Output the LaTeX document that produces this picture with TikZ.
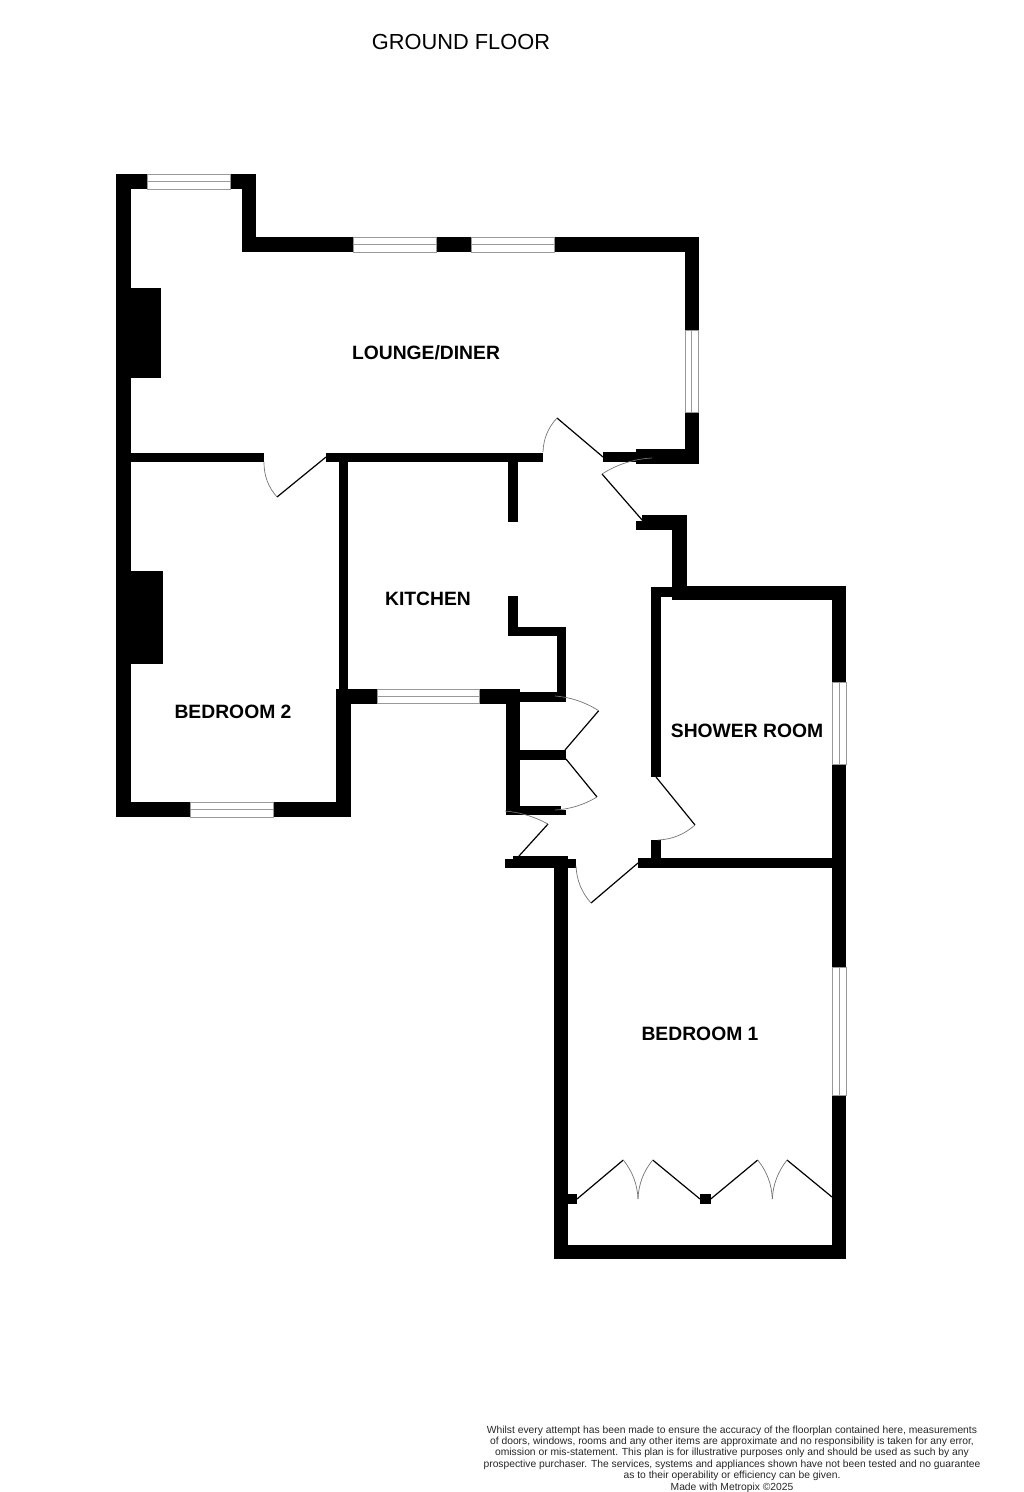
\documentclass[tikz,border=0pt]{standalone}
\usepackage{fontspec}
\setmainfont{Liberation Sans}
\usetikzlibrary{calc}
\tikzset{
  wall/.style={fill=black},
  glass/.style={draw=black!40,line width=1pt,fill=white},
  leaf/.style={draw=black,line width=1.2pt},
  swing/.style={draw=black!55,line width=0.7pt},
  room/.style={font=\bfseries\fontsize{19.3}{22}\selectfont,inner sep=0pt},
}
\newcommand{\door}[3]{%
  \draw[leaf] (#1) -- (#2);
  \coordinate (swingtop) at ($(#2)!.5!(#3)!-.12!(#1)$);
  \draw[swing] (#2) .. controls ($(#2)!.67!(swingtop)$) and ($(#3)!.67!(swingtop)$) .. (#3);
}
\begin{document}
\begin{tikzpicture}[x=1pt,y=-1pt]
\useasboundingbox (0,0) rectangle (1024,1492);
%
% outer and inner walls
\foreach \xa/\ya/\xb/\yb in {
  116/174/131/817, 116/174/147/189, 230/174/256/189, 242/174/256/252,
  242/237/353/252, 436/237/471/252, 554/237/698.5/252,
  685/237/698.5/330, 685/412/698.5/464, 636/449/698.5/464, 603/452/645/462,
  131/452.7/264/462, 326/452.7/543/462, 338.5/452.7/348/703,
  507.7/462/517.5/521.7, 507.7/595.7/517.5/636, 507.7/626.7/566/636,
  556.5/627/566/701.7,
  336/689/377/703.5, 479/689/520/703.5, 520/691.7/566/701.7,
  336/703/351/817, 116/802/190/817, 273/802/351/817,
  505.5/689/520/815, 520/750/566/759.7, 520/805.7/561/815, 561/810/566/815,
  636/521/645/530, 642/515/686.5/530, 672/515/686.5/600,
  651/587/686.5/597, 672/585.7/846/600, 651/587/661/777, 651/840/661/868,
  638/858/832/868, 832/585.7/846/682, 832/764/846/967, 832/1095/846/1259,
  505/858.7/576/868, 512.5/856/568/868, 554/856/568/1259, 554/1245/846/1259,
  568/1194.3/576.7/1204, 700/1194.3/710.7/1204}
  \fill[wall] (\xa,\ya) rectangle (\xb,\yb);
%
% chimney breasts
\fill[wall] (131,288) rectangle (160.7,377.5);
\fill[wall] (131,571) rectangle (163,664);
%
% windows, lying
\foreach \xa/\xb/\ya/\yb in {
  147/230/174/189, 353/436/237/252, 471/554/237/252,
  377/479/689/703.5, 190/273/802/817}
  \draw[glass] (\xa,\ya) rectangle (\xb,\yb) (\xa,{(\ya+\yb)/2}) -- (\xb,{(\ya+\yb)/2});
% windows, standing
\foreach \ya/\yb/\xa/\xb in {
  330/412/685/698.5, 682/764/832/846, 967/1095/832/846}
  \draw[glass] (\xa,\ya) rectangle (\xb,\yb) ({(\xa+\xb)/2},\ya) -- ({(\xa+\xb)/2},\yb);
%
% doors: hinge, tip of the leaf, end of the swing
\door{326,457}{277,497}{264,462}
\door{603,457}{557,418}{543,452}
\door{643,521}{602,474}{652,458}
\door{565,750}{598.7,710.7}{555,696}
\door{566,759}{597,797}{555,810}
\door{519,856}{548,824}{505,811}
\door{656,777}{695,825}{658,840}
\door{638,863}{591,903}{576,866}
%
% wardrobe
\door{577,1199}{623.3,1160}{638,1199}
\door{700,1199}{652.7,1160}{638,1199}
\door{710.7,1199}{757.7,1160}{772.3,1199}
\door{832,1197}{787,1160}{772.3,1199}
%
\node (title) at (461,42) [inner sep=0pt,font=\fontsize{21.8}{26}\selectfont] {GROUND FLOOR};
\node (lounge) at (426,353) [room] {LOUNGE/DINER};
\node (kitchen) at (428,599) [room] {KITCHEN};
\node (bedtwo) at (233,712) [room] {BEDROOM 2};
\node (shower) at (747,731) [room] {SHOWER ROOM};
\node (bedone) at (700,1034) [room] {BEDROOM 1};
%
\node (notice) at (732,1459) [align=center,inner sep=0pt,text=black!85,font=\fontsize{10.3}{11.45}\selectfont] {%
  Whilst every attempt has been made to ensure the accuracy of the floorplan contained here, measurements\\
  of doors, windows, rooms and any other items are approximate and no responsibility is taken for any error,\\
  omission or mis-statement. This plan is for illustrative purposes only and should be used as such by any\\
  prospective purchaser. The services, systems and appliances shown have not been tested and no guarantee\\
  as to their operability or efficiency can be given.\\
  Made with Metropix ©2025};
\end{tikzpicture}
\end{document}
